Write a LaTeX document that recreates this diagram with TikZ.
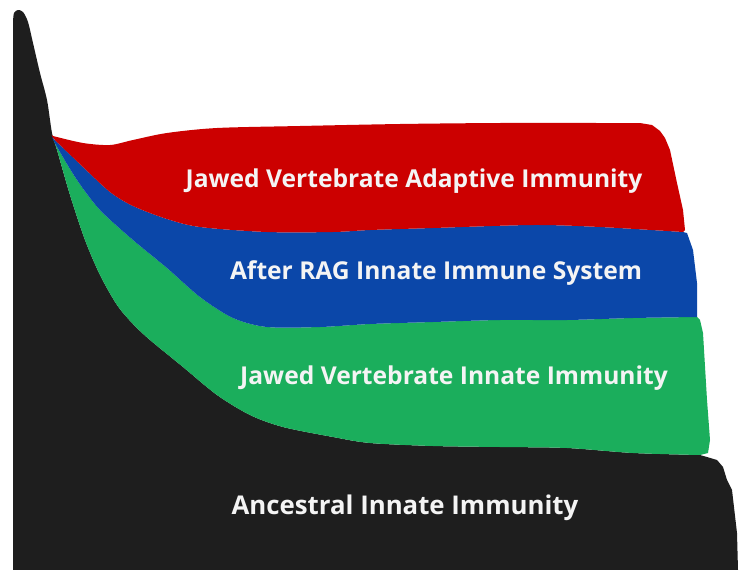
\documentclass[tikz,border=0pt]{standalone}
\usepackage{fontspec}
\setmainfont{Open Sans}
\definecolor{cblack}{HTML}{1E1E1E}
\definecolor{cred}{HTML}{CC0000}
\definecolor{cblue}{HTML}{0B47A9}
\definecolor{cgreen}{HTML}{1BAE5C}
\definecolor{ctext}{HTML}{F4F4F4}
\tikzset{lbl/.style={text=ctext,font=\bfseries\fontsize{24.6}{28}\selectfont,inner sep=0pt}}
\begin{document}
\begin{tikzpicture}[x=1pt,y=-1pt]
\useasboundingbox[fill=white] (0,0) rectangle (739,570);
% black layer
\fill[cblack] (13,570) -- (13,22)
  -- plot[smooth] coordinates {(13,22) (14,13) (18,10) (23,12) (28,22) (33,43) (40,73) (47,100) (52,133) (57,150) (70,195) (85,240) (100,275) (117,305) (133,324) (150,340) (183,367) (217,395) (250,415) (283,427) (333,437) (370,443) (433,446) (500,447) (567,448) (633,453) (700,455)}
  -- (707,457) -- (717,460) -- (723,467) -- (727,480) -- (732,490) -- (737,533) -- (738,570) -- cycle;
% green layer
\fill[cgreen] plot[smooth] coordinates {(53,139) (57,150) (70,195) (85,240) (100,275) (117,305) (133,324) (150,340) (183,367) (217,395) (250,415) (283,427) (333,437) (370,443) (433,446) (500,447) (567,448) (633,453) (700,455)}
  -- (708,453) -- (710,440) -- (707,400) -- (703,333) -- (700,320)
  -- plot[smooth] coordinates {(697,317) (633,318) (567,320) (500,320) (433,322) (370,324) (320,327) (267,327) (233,318) (200,297) (167,268) (133,240) (100,210) (77,180) (57,147) (53,139)} -- cycle;
% blue layer
\fill[cblue] plot[smooth] coordinates {(52,137) (57,147) (77,180) (100,210) (133,240) (167,268) (200,297) (233,318) (267,327) (320,327) (370,324) (433,322) (500,320) (567,320) (633,318) (697,317)}
  -- (697,313) -- (697,283) -- (693,250) -- (687,233)
  -- plot[smooth] coordinates {(683,232) (600,227) (533,225) (433,228) (370,230) (333,232) (267,232) (200,227) (167,219) (133,206) (110,192) (83,167) (55,140) (52,137)} -- cycle;
% red layer
\fill[cred] plot[smooth] coordinates {(52,135) (55,140) (83,167) (110,192) (133,206) (167,219) (200,227) (267,232) (333,232) (370,230) (433,228) (533,225) (600,227) (683,232)}
  -- (685,230) -- (683,210) -- (677,183) -- (670,150) -- (665,138) -- (660,131) -- (652,125) -- (640,123)
  -- plot[smooth] coordinates {(640,123) (600,123) (500,123) (400,124) (300,126) (217,128) (167,133) (133,140) (110,145) (83,143) (53,136)} -- cycle;
\node[lbl] (t1) at (414,181) {Jawed Vertebrate Adaptive Immunity};
\node[lbl] (t2) at (436,273) {After RAG Innate Immune System};
\node[lbl] (t3) at (454,378) {Jawed Vertebrate Innate Immunity};
\node[lbl,font=\bfseries\fontsize{25.8}{29}\selectfont] (t4) at (405,508) {Ancestral Innate Immunity};
\end{tikzpicture}
\end{document}
